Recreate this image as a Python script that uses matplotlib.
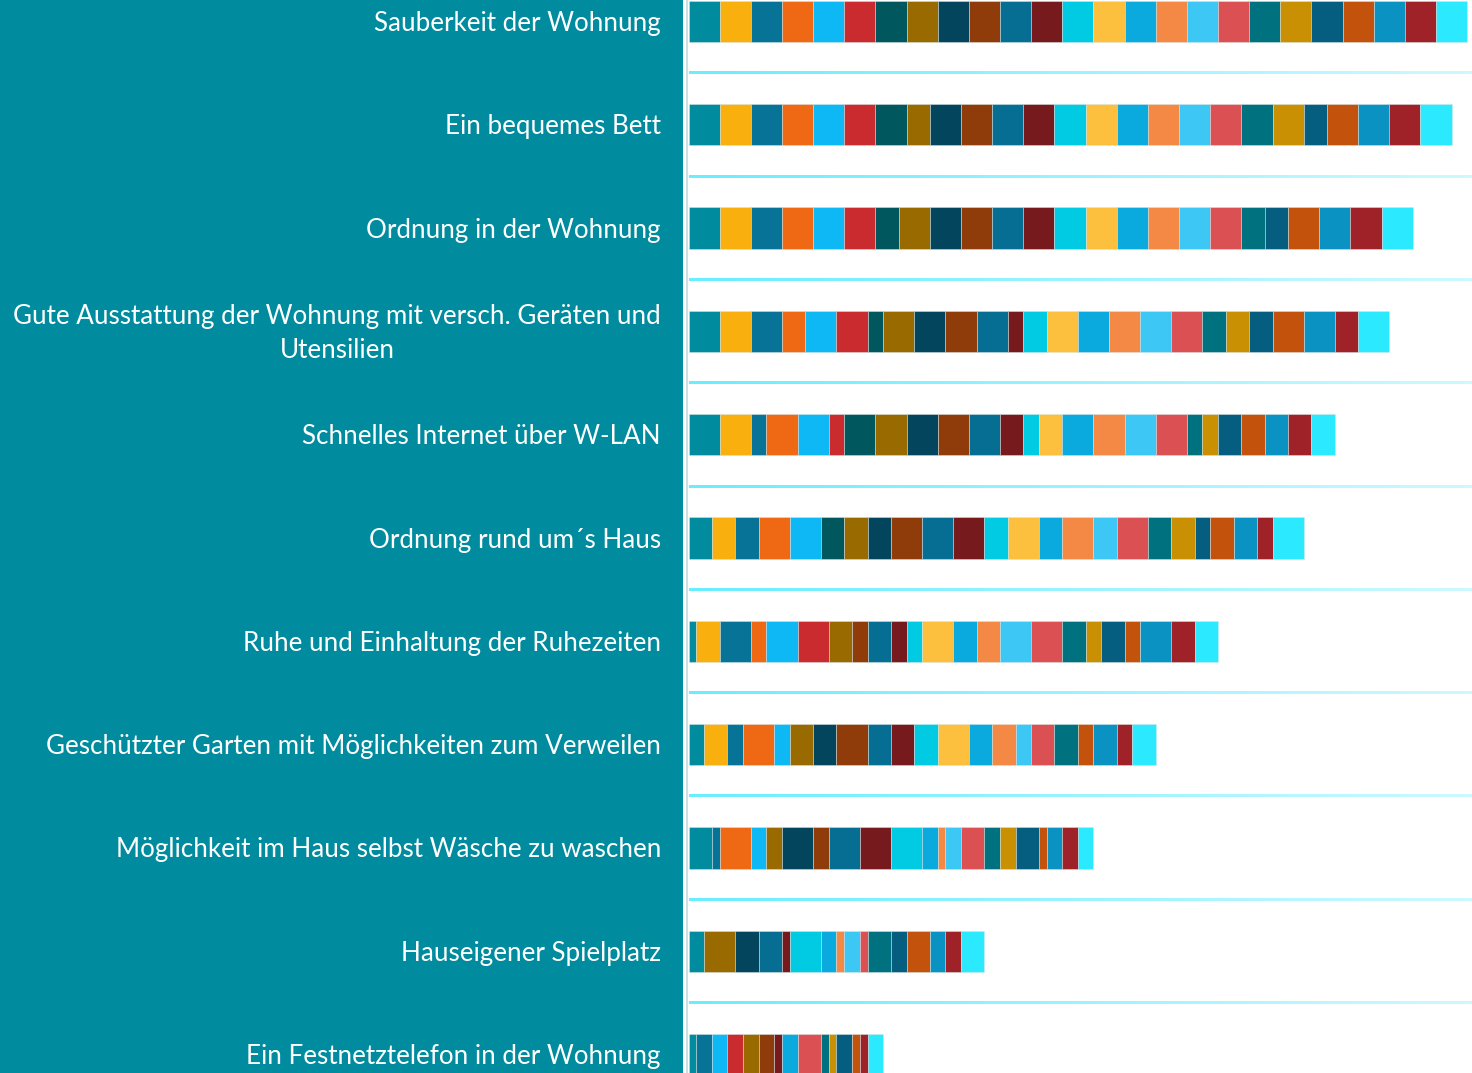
import matplotlib
matplotlib.use("Agg")
import matplotlib.pyplot as plt
import numpy as np
from matplotlib.patches import Rectangle
from matplotlib.lines import Line2D
from matplotlib import transforms
from matplotlib.colors import to_rgb

categories = [
    "Sauberkeit der Wohnung",
    "Ein bequemes Bett",
    "Ordnung in der Wohnung",
    "Gute Ausstattung der Wohnung mit versch. Geräten und\nUtensilien",
    "Schnelles Internet über W-LAN",
    "Ordnung rund um´s Haus",
    "Ruhe und Einhaltung der Ruhezeiten",
    "Geschützter Garten mit Möglichkeiten zum Verweilen",
    "Möglichkeit im Haus selbst Wäsche zu waschen",
    "Hauseigener Spielplatz",
    "Ein Festnetztelefon in der Wohnung",
]

# one list per category, 25 stacked series each
sauberkeit = [5, 5, 5, 5, 5, 5, 5, 5, 5, 5, 5, 5, 5, 5, 5, 5, 5, 5, 5, 5, 5, 5, 5, 5, 5]
bett = [5, 5, 5, 5, 5, 5, 5, 3.75, 5, 5, 5, 5, 5, 5, 5, 5, 5, 5, 5, 5, 3.75, 5, 5, 5, 5]
ordnung_wohnung = [5, 5, 5, 5, 5, 5, 3.75, 5, 5, 5, 5, 5, 5, 5, 5, 5, 5, 5, 3.75, 0, 3.75, 5, 5, 5, 5]
ausstattung = [5, 5, 5, 3.75, 5, 5, 2.5, 5, 5, 5, 5, 2.5, 3.75, 5, 5, 5, 5, 5, 3.75, 3.75, 3.75, 5, 5, 3.75, 5]
internet = [5, 5, 2.5, 5, 5, 2.5, 5, 5, 5, 5, 5, 3.75, 2.5, 3.75, 5, 5, 5, 5, 2.5, 2.5, 3.75, 3.75, 3.75, 3.75, 3.75]
ordnung_haus = [3.75, 3.75, 3.75, 5, 5, 0, 3.75, 3.75, 3.75, 5, 5, 5, 3.75, 5, 3.75, 5, 3.75, 5, 3.75, 3.75, 2.5, 3.75, 3.75, 2.5, 5]
ruhe = [1.25, 3.75, 5, 2.5, 5, 5, 0, 3.75, 0, 2.5, 3.75, 2.5, 2.5, 5, 3.75, 3.75, 5, 5, 3.75, 2.5, 3.75, 2.5, 5, 3.75, 3.75]
garten = [2.5, 3.75, 2.5, 5, 2.5, 0, 0, 3.75, 3.75, 5, 3.75, 3.75, 3.75, 5, 3.75, 3.75, 2.5, 3.75, 3.75, 0, 0, 2.5, 3.75, 2.5, 3.75]
waesche = [3.75, 0, 1.25, 5, 2.5, 0, 0, 2.5, 5, 2.5, 5, 5, 5, 0, 2.5, 1.25, 2.5, 3.75, 2.5, 2.5, 3.75, 1.25, 2.5, 2.5, 2.5]
spielplatz = [2.5, 0, 0, 0, 0, 0, 0, 5, 3.75, 0, 3.75, 1.25, 5, 0, 2.5, 1.25, 2.5, 1.25, 3.75, 0, 2.5, 3.75, 2.5, 2.5, 3.75]
festnetz = [1.25, 0, 2.5, 0, 2.5, 2.5, 0, 2.5, 0, 2.5, 0, 1.25, 0, 0, 2.5, 0, 0, 3.75, 1.25, 1.25, 2.5, 1.25, 0, 1.25, 2.5]

rows = [sauberkeit, bett, ordnung_wohnung, ausstattung, internet, ordnung_haus,
        ruhe, garten, waesche, spielplatz, festnetz]

series_colors = [
    "#008C9E", "#F9B00F", "#077396", "#EF6914", "#0DB8F5", "#C92B2F", "#01575E",
    "#986A00", "#04455E", "#8F3C0A", "#066E92", "#771A1D", "#00CBE3", "#FCC03E",
    "#0AA9DE", "#F48845", "#3CC7F5", "#DB5053", "#00717E", "#CA9003", "#055D80",
    "#C3520D", "#0A93C2", "#9E2227", "#2BE9FF",
]

W, H = 1472, 1073
fig = plt.figure(figsize=(W / 100, H / 100), dpi=100)
fig.patch.set_facecolor("white")

# left label panel (drawn beneath the axes)
fig.patches.append(Rectangle((0, 0), 683 / W, 1, transform=fig.transFigure,
                             facecolor="#008C9E", edgecolor="none", zorder=-5))

ax_left_px = 688.5
ax = fig.add_axes([ax_left_px / W, 0, (W - ax_left_px) / W, 1])
ax.set_facecolor("none")
px_per_unit = 778.7 / 125.0
xmax = (W - ax_left_px) / px_per_unit
row_step = 103.3
y_top = -21.5 / row_step
y_bot = (H - 21.5) / row_step

data = np.array(rows, dtype=float)  # (11, 25)
ypos = np.arange(len(categories))

# separators with a horizontal colour gradient
c0 = np.array(to_rgb("#68EEFF"))
c1 = np.array(to_rgb("#CDF9FF"))
grad = np.linspace(0, 1, 256)[:, None] * (c1 - c0)[None, :] + c0[None, :]
grad = grad[None, :, :]
half = 1.2 / row_step
for i in range(len(categories) - 1):
    yy = i + 0.5
    ax.imshow(grad, extent=[0, xmax, yy + half, yy - half], aspect="auto",
              interpolation="bilinear", zorder=1)

# stacked bars
cum = np.zeros(len(categories))
for j, col in enumerate(series_colors):
    vals = data[:, j]
    mask = vals > 0
    ax.barh(ypos[mask], vals[mask], left=cum[mask], height=0.4, color=col,
            edgecolor=(0.85, 0.9, 0.9, 0.55), linewidth=0.6, zorder=2)
    cum += vals

ax.set_xlim(0, xmax)
ax.set_ylim(y_bot, y_top)
for s in ax.spines.values():
    s.set_visible(False)
ax.set_xticks([])
ax.set_yticks([])

# axis line
fig.add_artist(Line2D([687 / W, 687 / W], [0, 1], transform=fig.transFigure,
                      color="#C9E1E3", linewidth=1.5, zorder=3))

# labels
trans = transforms.blended_transform_factory(fig.transFigure, ax.transData)
for i, lab in enumerate(categories):
    ax.text(661 / W, i + 0.02, lab, transform=trans, ha="right", va="center",
            multialignment="center", color="white", fontsize=18.7,
            family=["Lato", "DejaVu Sans"], linespacing=1.48, clip_on=False)

fig.savefig("out.png", dpi=100, facecolor=fig.get_facecolor())
